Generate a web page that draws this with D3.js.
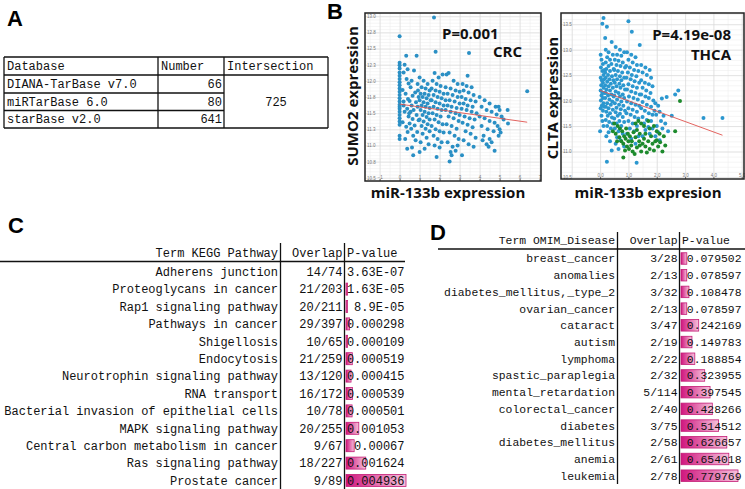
<!DOCTYPE html>
<html><head><meta charset="utf-8">
<script src="https://cdn.jsdelivr.net/npm/d3@7"></script>
<style>body{margin:0;background:#fff;} svg{display:block;}</style>
</head><body>
<svg id="c" width="745" height="489"></svg>
<script>
// ---------- Panel A data ----------
const tableAHeaders = ["Database", "Number", "Intersection"];
const dbNames = ["DIANA-TarBase v7.0", "miRTarBase 6.0", "starBase v2.0"];
const dbNumbers = [66, 80, 641];
const dbIntersection = 725;

// ---------- Panel B data ----------
const crcPoints = [
[0,12.69],[0,12.28],[0,12.24],[0,12.19],[0,12.13],[0,12.08],[0,12.03],[0,11.98],[0,11.93],[0,11.88],[0,11.83],[0,11.78],[0,11.73],[0,11.68],[0,11.63],[0,11.60],[0,11.57],[0,11.52],[0,11.47],[0,11.42],[0,11.37],[0,11.32],[0,11.15],[0,11.10],
[0.33,12.39],[0.25,12.25],[0.4,12.18],[0.2,12.13],[0.35,12.03],[0.45,11.96],[0.15,11.86],[0.3,11.80],[0.42,11.72],[0.2,11.62],[0.38,11.57],[0.25,11.52],[0.45,11.45],[0.15,11.36],[0.33,11.29],[0.4,11.21],[0.28,11.10],[0.38,10.95],[0.48,11.5],[0.2,11.68],
[0.85,12.39],[0.72,12.16],[0.6,12.0],[0.9,11.95],[0.55,11.9],[0.78,11.82],[0.65,11.77],[0.95,11.75],[0.5,11.69],[0.82,11.67],[0.6,11.62],[0.9,11.6],[0.7,11.55],[0.55,11.52],[0.85,11.47],[0.65,11.41],[0.95,11.39],[0.75,11.31],[0.58,11.26],[0.88,11.21],[0.68,11.15],[0.8,11.08],[0.62,10.97],[0.68,10.85],[0.5,11.34],[0.92,11.85],
[1.0,12.05],[1.2,12.0],[1.4,11.95],[1.1,11.9],[1.3,11.88],[1.5,11.85],[1.05,11.8],[1.25,11.8],[1.45,11.78],[1.15,11.75],[1.35,11.73],[1.0,11.7],[1.55,11.7],[1.2,11.67],[1.4,11.65],[1.1,11.62],[1.3,11.6],[1.5,11.58],[1.05,11.55],[1.25,11.52],[1.45,11.5],[1.15,11.47],[1.35,11.44],[1.0,11.4],[1.5,11.4],[1.2,11.37],[1.4,11.33],[1.1,11.3],[1.3,11.26],[1.5,11.22],[1.15,11.18],[1.35,11.12],[1.05,11.05],[1.45,11.02],[1.25,10.95],[1.0,10.9],
[1.75,12.12],[1.95,12.05],[2.15,12.1],[1.65,12.0],[1.85,11.95],[2.05,11.92],[1.6,11.88],[1.8,11.85],[2.0,11.83],[2.2,11.8],[1.7,11.78],[1.9,11.75],[2.1,11.73],[1.6,11.7],[1.8,11.67],[2.0,11.65],[2.2,11.62],[1.7,11.6],[1.9,11.57],[2.1,11.55],[1.65,11.5],[1.85,11.47],[2.05,11.45],[1.75,11.4],[1.95,11.36],[2.15,11.33],[1.6,11.3],[1.8,11.25],[2.0,11.22],[1.7,11.15],[1.9,11.1],[2.1,11.05],[1.75,11.0],[2.0,10.97],[1.85,10.82],[2.2,11.2],[1.72,12.98],[1.8,12.45],
[2.35,12.1],[2.45,12.12],[2.7,12.0],[2.9,11.95],[2.3,11.9],[2.55,11.88],[2.8,11.85],[3.0,11.83],[2.4,11.8],[2.65,11.78],[2.9,11.75],[2.3,11.7],[2.5,11.7],[2.75,11.68],[3.0,11.65],[2.4,11.62],[2.6,11.6],[2.85,11.58],[2.3,11.55],[2.55,11.52],[2.8,11.5],[3.0,11.47],[2.45,11.45],[2.7,11.42],[2.95,11.38],[2.35,11.33],[2.6,11.3],[2.85,11.26],[2.5,11.2],[2.75,11.15],[2.95,11.1],[2.4,11.05],[2.65,10.98],[2.9,11.0],[2.55,10.9],[2.5,10.75],[2.6,10.85],[2.8,10.92],
[3.47,12.43],[3.4,12.08],[3.15,11.95],[3.35,11.92],[3.6,11.9],[3.2,11.85],[3.45,11.82],[3.7,11.78],[3.1,11.75],[3.3,11.72],[3.55,11.7],[3.8,11.68],[3.2,11.65],[3.4,11.62],[3.65,11.6],[3.1,11.57],[3.35,11.55],[3.6,11.52],[3.85,11.5],[3.25,11.45],[3.5,11.42],[3.75,11.4],[3.15,11.35],[3.4,11.32],[3.65,11.28],[3.3,11.22],[3.55,11.18],[3.8,11.12],[3.2,11.08],[3.45,11.02],[3.7,10.98],[3.12,10.85],
[4.0,11.75],[4.25,11.7],[4.5,11.65],[4.1,11.6],[4.35,11.55],[4.6,11.52],[4.85,11.48],[4.0,11.45],[4.25,11.42],[4.5,11.38],[4.75,11.35],[4.1,11.3],[4.4,11.25],[4.7,11.22],[4.9,11.3],[4.2,11.15],[4.5,11.1],[4.35,11.02],[4.6,11.05],[4.45,10.98],[4.75,10.92],[4.15,11.08],[4.8,11.6],
[4.95,11.6],[5.0,11.55],[5.1,11.45],[5.2,11.4],[5.4,11.55],[5.42,11.34],[5.0,11.25],[5.05,11.2],[4.95,11.15],
[6.38,11.84]
];
const crcFit = [[0, 11.64], [6.38, 11.36]];
const crcXTicks = [-1, 0, 1, 2, 3, 4, 5, 6, 7];
const crcYTicks = [10.5, 10.75, 11, 11.25, 11.5, 11.75, 12, 12.25, 12.5, 12.75, 13];

const thcaBlue = [
[0.02,12.9],[0.05,12.8],[0.1,12.72],[0.03,12.65],[0.08,12.58],[0.12,12.5],[0.02,12.45],[0.06,12.4],[0.1,12.35],[0.04,12.3],[0.12,12.25],[0.02,12.2],[0.08,12.15],[0.05,12.1],[0.1,12.05],[0.03,12.0],[0.12,11.95],[0.06,11.9],[0.02,11.85],[0.1,11.8],[0.05,11.7],[0.08,11.6],[0.0,11.4],[0.12,11.5],[0.15,12.6],[0.14,12.42],[0.15,12.15],[0.14,11.88],
[0.12,13.62],[0.08,13.51],[0.24,13.45],[0.18,13.23],[0.41,13.15],[0.2,13.0],[0.3,12.95],[0.45,12.9],[0.25,12.85],[0.35,12.8],[0.2,12.75],[0.4,12.72],[0.3,12.68],[0.22,12.62],[0.48,12.62],[0.35,12.58],[0.18,12.55],[0.28,12.5],[0.42,12.48],[0.2,12.45],[0.33,12.42],[0.47,12.4],[0.25,12.37],[0.38,12.33],[0.18,12.3],[0.3,12.28],[0.45,12.25],[0.22,12.22],[0.35,12.2],[0.2,12.15],[0.4,12.12],[0.28,12.1],[0.48,12.08],[0.18,12.05],[0.33,12.02],[0.43,11.98],[0.25,11.95],[0.38,11.92],[0.2,11.88],[0.3,11.85],[0.45,11.82],[0.22,11.78],[0.35,11.75],[0.27,11.7],[0.42,11.67],[0.2,11.62],[0.32,11.58],[0.45,11.55],[0.25,11.5],[0.38,11.45],[0.3,11.38],[0.22,11.3],[0.41,11.02],[0.24,10.8],[0.35,11.2],
[0.55,13.05],[0.7,13.0],[0.85,12.95],[0.6,12.9],[0.75,12.88],[0.52,12.8],[0.65,12.78],[0.8,12.75],[0.58,12.7],[0.72,12.68],[0.88,12.65],[0.5,12.6],[0.63,12.58],[0.78,12.55],[0.55,12.5],[0.7,12.48],[0.85,12.45],[0.6,12.42],[0.75,12.4],[0.52,12.35],[0.68,12.33],[0.82,12.3],[0.58,12.28],[0.72,12.25],[0.88,12.22],[0.55,12.18],[0.65,12.15],[0.8,12.12],[0.5,12.1],[0.7,12.08],[0.85,12.05],[0.6,12.02],[0.75,11.98],[0.52,11.95],[0.67,11.92],[0.82,11.9],[0.58,11.86],[0.73,11.83],[0.88,11.8],[0.55,11.77],[0.7,11.74],[0.62,11.7],[0.8,11.68],[0.5,11.65],[0.68,11.6],[0.85,11.58],[0.58,11.55],[0.75,11.5],[0.52,11.45],[0.65,11.4],[0.8,11.35],[0.6,11.28],[0.72,11.22],[0.55,11.15],[0.85,11.1],[0.65,11.05],
[1.0,13.56],[1.12,13.35],[0.95,12.95],[1.1,12.9],[1.25,12.85],[1.4,13.09],[1.0,12.8],[1.15,12.75],[1.3,12.7],[0.92,12.68],[1.05,12.65],[1.2,12.6],[1.35,12.58],[0.98,12.55],[1.12,12.5],[1.28,12.48],[0.93,12.45],[1.08,12.42],[1.22,12.38],[1.38,12.35],[1.0,12.32],[1.15,12.28],[1.3,12.25],[0.95,12.22],[1.1,12.18],[1.25,12.15],[1.4,12.12],[1.02,12.08],[1.18,12.05],[1.33,12.02],[0.95,11.98],[1.1,11.95],[1.25,11.92],[1.38,11.9],[1.0,11.85],[1.15,11.82],[1.3,11.78],[0.93,11.75],[1.08,11.72],[1.22,11.68],[1.35,11.65],[1.0,11.6],[1.15,11.55],[1.3,11.5],[1.05,11.45],[1.2,11.4],[0.95,11.35],[1.35,11.3],[1.1,11.25],[1.29,10.78],[1.25,11.15],
[1.45,12.7],[1.6,12.65],[1.75,12.6],[1.5,12.55],[1.65,12.5],[1.8,12.45],[1.45,12.4],[1.58,12.35],[1.72,12.32],[1.85,12.28],[1.5,12.25],[1.63,12.2],[1.78,12.15],[1.45,12.12],[1.6,12.08],[1.72,12.05],[1.88,12.0],[1.5,11.97],[1.65,11.92],[1.8,11.88],[1.45,11.85],[1.58,11.8],[1.72,11.75],[1.85,11.72],[1.5,11.68],[1.65,11.62],[1.8,11.6],[1.55,11.55],[1.7,11.48],[1.85,11.45],[1.6,11.42],[1.75,11.35],[1.5,11.3],
[1.95,11.95],[2.05,11.9],[2.18,12.04],[2.35,12.07],[1.92,11.8],[2.1,11.78],[2.24,11.7],[1.98,11.72],[2.15,11.6],[2.3,11.55],[2.0,11.5],[2.2,11.45],[2.4,11.4],[2.05,11.38],[2.53,11.7],[2.65,12.12],[2.76,12.2],[1.95,11.3],[2.1,11.22],
[3.65,11.66],[4.32,11.66]
];
const thcaGreen = [
[0.45,11.4],[0.55,11.35],[0.62,11.5],[0.7,11.45],[0.78,11.4],[0.85,11.3],[0.92,11.45],[0.68,11.28],[0.75,11.2],[0.82,11.15],[0.9,11.25],[0.98,11.35],[1.05,11.3],[1.12,11.2],[1.18,11.38],[1.25,11.28],[1.3,11.42],[1.38,11.2],[0.95,11.1],[1.02,11.05],[1.1,11.12],[0.88,11.02],[0.82,10.88],[1.15,11.0],[1.22,10.95],[1.3,11.08],[1.4,11.12],[1.45,11.0],[1.5,11.15],[1.55,11.25],[1.6,11.1],[1.65,10.98],[1.7,11.2],[1.75,11.05],[1.8,11.3],[1.85,11.15],[1.9,11.02],[1.95,11.2],[2.0,11.22],[2.05,11.1],[2.12,11.18],[2.2,11.0],[2.3,11.12],[2.0,11.4],[1.9,11.5],[1.7,11.6],[1.55,11.5],[1.45,11.55],[1.35,11.6],[1.25,11.55],[0.6,11.2],[0.5,11.55],[2.65,11.4],[2.82,11.99],[1.6,11.35],[1.4,11.35],[2.1,11.35],[1.0,11.2],[1.75,11.45],[2.25,11.3]
];
const thcaFit = [[0, 12.2], [4.32, 11.32]];
const thcaXTicks = [0, 1, 2, 3, 4, 5];
const thcaYTicks = [10.5, 11, 11.5, 12, 12.5, 13, 13.5];

// ---------- Panel C data ----------
const keggHeaders = ["Term KEGG Pathway", "Overlap", "P-value"];
const keggTerms = ["Adherens junction", "Proteoglycans in cancer", "Rap1 signaling pathway", "Pathways in cancer", "Shigellosis", "Endocytosis", "Neurotrophin signaling pathway", "RNA transport", "Bacterial invasion of epithelial cells", "MAPK signaling pathway", "Central carbon metabolism in cancer", "Ras signaling pathway", "Prostate cancer"];
const keggOverlap = ["14/74", "21/203", "20/211", "29/397", "10/65", "21/259", "13/120", "16/172", "10/78", "20/255", "9/67", "18/227", "9/89"];
const keggPLabels = ["3.63E-07", "1.63E-05", "8.9E-05", "0.000298", "0.000109", "0.000519", "0.000415", "0.000539", "0.000501", "0.001053", "0.00067", "0.001624", "0.004936"];

// ---------- Panel D data ----------
const omimHeaders = ["Term OMIM_Disease", "Overlap", "P-value"];
const omimTerms = ["breast_cancer", "anomalies", "diabetes_mellitus,_type_2", "ovarian_cancer", "cataract", "autism", "lymphoma", "spastic_paraplegia", "mental_retardation", "colorectal_cancer", "diabetes", "diabetes_mellitus", "anemia", "leukemia"];
const omimOverlap = ["3/28", "2/13", "3/32", "2/13", "3/47", "2/19", "2/22", "2/32", "5/114", "2/40", "3/75", "2/58", "2/61", "2/78"];
const omimPLabels = ["0.079502", "0.078597", "0.108478", "0.078597", "0.242169", "0.149783", "0.188854", "0.323955", "0.397545", "0.428266", "0.514512", "0.626657", "0.654018", "0.779769"];

// =====================================================
const svg = d3.select("#c");
const MONO = "'Liberation Mono', 'Courier New', 'Nimbus Mono PS', FreeMono, Courier, monospace";
const SANS = "'Liberation Sans', Arial, sans-serif";
const BOLD = "'Open Sans', 'Liberation Sans', Arial, sans-serif";

const defs = svg.append("defs");
const grad = defs.append("linearGradient").attr("id", "barGrad").attr("x1", "0").attr("x2", "1").attr("y1", "0").attr("y2", "0");
grad.append("stop").attr("offset", "0%").attr("stop-color", "#d0167e");
grad.append("stop").attr("offset", "100%").attr("stop-color", "#f5c2dc");

function panelLabel(t, x, y) {
  svg.append("text").attr("x", x).attr("y", y).text(t)
    .attr("font-family", SANS).attr("font-weight", "bold").attr("font-size", 22).attr("fill", "#000");
}

// ---------- Panel A ----------
panelLabel("A", 7, 26);
(function () {
  const g = svg.append("g");
  const colX = [4, 158, 224, 328];
  const rowY = [57, 75, 93, 110.5, 128];
  const line = (x1, y1, x2, y2) => g.append("line").attr("x1", x1).attr("y1", y1).attr("x2", x2).attr("y2", y2)
    .attr("stroke", "#111").attr("stroke-width", 1.3);
  line(colX[0], rowY[0], colX[3], rowY[0]);
  line(colX[0], rowY[1], colX[3], rowY[1]);
  line(colX[0], rowY[2], colX[2], rowY[2]);
  line(colX[0], rowY[3], colX[2], rowY[3]);
  line(colX[0], rowY[4], colX[3], rowY[4]);
  colX.forEach(x => line(x, rowY[0], x, rowY[4]));
  const txt = (s, x, y, anchor) => g.append("text").attr("x", x).attr("y", y).attr("dy", "0.35em").text(s)
    .attr("font-family", MONO).attr("font-size", 12).attr("fill", "#111").attr("text-anchor", anchor || "start");
  tableAHeaders.forEach((h, i) => txt(h, colX[i] + 3, (rowY[0] + rowY[1]) / 2));
  dbNames.forEach((n, i) => {
    const cy = (rowY[i + 1] + rowY[i + 2]) / 2;
    txt(n, colX[0] + 3, cy);
    txt(String(dbNumbers[i]), colX[2] - 2, cy, "end");
  });
  txt(String(dbIntersection), (colX[2] + colX[3]) / 2, (rowY[1] + rowY[4]) / 2, "middle");
})();

// ---------- Panel B ----------
panelLabel("B", 327, 19);

function scatterPanel(o) {
  const g = svg.append("g");
  const x = d3.scaleLinear().domain(o.xDomain).range([o.x0, o.x1]);
  const y = d3.scaleLinear().domain(o.yDomain).range([o.y1, o.y0]);
  const w = o.x1 - o.x0, h = o.y1 - o.y0;
  g.append("rect").attr("x", o.x0).attr("y", o.y0).attr("width", w).attr("height", h).attr("fill", "#fff");
  const yMinor = d3.range(Math.ceil(o.yDomain[0] / o.yMinorStep), Math.floor(o.yDomain[1] / o.yMinorStep) + 1).map(k => +(k * o.yMinorStep).toFixed(4));
  const xMinor = d3.range(Math.ceil(o.xDomain[0] / o.xMinorStep), Math.floor(o.xDomain[1] / o.xMinorStep) + 1).map(k => +(k * o.xMinorStep).toFixed(4));
  const gridStyle = (sel, col) => { sel.select(".domain").remove(); sel.selectAll(".tick line").attr("stroke", col).attr("stroke-width", 0.6); };
  g.append("g").attr("transform", `translate(${o.x0},0)`)
    .call(d3.axisLeft(y).tickValues(yMinor).tickSize(-w).tickFormat(""))
    .call(s => gridStyle(s, "#eeeeee"));
  g.append("g").attr("transform", `translate(0,${o.y1})`)
    .call(d3.axisBottom(x).tickValues(xMinor).tickSize(-h).tickFormat(""))
    .call(s => gridStyle(s, "#eeeeee"));
  g.append("g").attr("transform", `translate(${o.x0},0)`)
    .call(d3.axisLeft(y).tickValues(o.yTicks).tickSize(-w).tickFormat(""))
    .call(s => gridStyle(s, "#d6d6d6"));
  g.append("g").attr("transform", `translate(0,${o.y1})`)
    .call(d3.axisBottom(x).tickValues(o.xGrid).tickSize(-h).tickFormat(""))
    .call(s => gridStyle(s, "#d6d6d6"));
  g.append("g").attr("transform", `translate(${o.x0},0)`)
    .call(d3.axisRight(y).tickValues(o.yTicks).tickSize(0).tickPadding(2))
    .call(s => { s.select(".domain").remove(); s.selectAll("text").attr("font-size", 4.5).attr("fill", "#777").attr("font-family", SANS); });
  g.append("g").attr("transform", `translate(0,${o.y1})`)
    .call(d3.axisTop(x).tickValues(o.xTicks).tickSize(2).tickPadding(0.5))
    .call(s => { s.select(".domain").remove(); s.selectAll(".tick line").attr("stroke", "#666");
      s.selectAll("text").attr("font-size", 4.5).attr("fill", "#777").attr("font-family", SANS); });
  o.series.forEach(sr => {
    g.append("g").selectAll("circle").data(sr.data).join("circle")
      .attr("cx", d => x(d[0])).attr("cy", d => y(d[1])).attr("r", 2).attr("fill", sr.color);
  });
  g.append("path").datum(o.fit).attr("d", d3.line().x(d => x(d[0])).y(d => y(d[1])))
    .attr("stroke", "#e0524e").attr("stroke-width", 0.9).attr("fill", "none");
  g.append("rect").attr("x", o.x0).attr("y", o.y0).attr("width", w).attr("height", h)
    .attr("fill", "none").attr("stroke", "#222").attr("stroke-width", 1.5);
  g.append("text").attr("x", o.pX).attr("y", o.pY).text(o.pText).attr("text-anchor", o.pAnchor)
    .attr("font-family", BOLD).attr("font-weight", "bold").attr("font-size", 15).attr("fill", "#111");
  g.append("text").attr("x", o.cX).attr("y", o.cY).text(o.cText).attr("text-anchor", "end")
    .attr("font-family", BOLD).attr("font-weight", "bold").attr("font-size", 15).attr("fill", "#111");
  g.append("text").attr("x", o.xtX).attr("y", o.xtY).text(o.xTitle).attr("text-anchor", "middle")
    .attr("font-family", BOLD).attr("font-weight", "bold").attr("font-size", 15).attr("fill", "#111");
  g.append("text").attr("transform", `translate(${o.ytX},${o.ytY}) rotate(-90)`).text(o.yTitle).attr("text-anchor", "middle")
    .attr("font-family", BOLD).attr("font-weight", "bold").attr("font-size", 15).attr("fill", "#111");
}

scatterPanel({
  x0: 365, x1: 541, y0: 13, y1: 181,
  xDomain: [-1.73, 7.07], yDomain: [10.45, 13.05],
  xTicks: crcXTicks, xGrid: crcXTicks, yTicks: crcYTicks, xMinorStep: 0.5, yMinorStep: 0.05,
  series: [{ data: crcPoints, color: "#2a8fc4" }],
  fit: crcFit,
  pText: "P=0.001", pX: 442, pY: 39, pAnchor: "start",
  cText: "CRC", cX: 522, cY: 57,
  xTitle: "miR-133b expression", xtX: 448, xtY: 198,
  yTitle: "SUMO2 expression", ytX: 358, ytY: 96
});

scatterPanel({
  x0: 561, x1: 744, y0: 13, y1: 179,
  xDomain: [-1.38, 5.08], yDomain: [10.46, 13.72],
  xTicks: thcaXTicks, xGrid: [-1].concat(thcaXTicks), yTicks: thcaYTicks, xMinorStep: 0.5, yMinorStep: 0.1,
  series: [{ data: thcaBlue, color: "#2b97cf" }, { data: thcaGreen, color: "#1d8a2c" }],
  fit: thcaFit,
  pText: "P=4.19e-08", pX: 731, pY: 40, pAnchor: "end",
  cText: "THCA", cX: 731, cY: 60,
  xTitle: "miR-133b expresion", xtX: 648, xtY: 198,
  yTitle: "CLTA expression", ytX: 558, ytY: 98
});

// ---------- Tables C & D ----------
function enrichTable(o) {
  const g = svg.append("g");
  const rows = d3.scalePoint().domain(o.terms).range([o.firstY, o.lastY]);
  const pVals = o.pLabels.map(s => +s);
  const bw = d3.scaleLinear().domain([0, d3.max(pVals)]).range([0, o.barMax]);
  const txt = (s, x, y, anchor) => g.append("text").attr("x", x).attr("y", y).attr("dy", "0.35em").text(s)
    .attr("font-family", MONO).attr("font-size", o.fs).attr("fill", "#111").attr("text-anchor", anchor);
  txt(o.headers[0], o.termRight, o.headerY, "end");
  txt(o.headers[1], o.ovRight, o.headerY, "end");
  txt(o.headers[2], o.barX + 1, o.headerY, "start");
  g.append("line").attr("x1", o.lineX0).attr("x2", o.lineX1).attr("y1", o.lineY).attr("y2", o.lineY)
    .attr("stroke", "#111").attr("stroke-width", 1.3);
  [o.col1, o.col2].forEach(x => g.append("line").attr("x1", x).attr("x2", x).attr("y1", o.vTop).attr("y2", o.vBottom)
    .attr("stroke", "#111").attr("stroke-width", 1.3));
  g.append("g").selectAll("rect").data(o.terms).join("rect")
    .attr("x", o.barX).attr("y", d => rows(d) - o.barH / 2)
    .attr("width", (d, i) => pVals[i] < 1e-5 ? 0 : Math.max(bw(pVals[i]), 1.6))
    .attr("height", o.barH).attr("fill", "url(#barGrad)").attr("stroke", "#c41c76").attr("stroke-width", 0.8);
  o.terms.forEach((t, i) => {
    const cy = rows(t);
    txt(t, o.termRight, cy, "end");
    txt(o.overlap[i], o.ovRight, cy, "end");
    txt(o.pLabels[i], o.pRight, cy, "end");
  });
}

panelLabel("C", 8, 233);
enrichTable({
  terms: keggTerms, overlap: keggOverlap, pLabels: keggPLabels, headers: keggHeaders,
  fs: 12, firstY: 271.7, lastY: 480.5, headerY: 253,
  termRight: 278, ovRight: 342.5, barX: 346, pRight: 404.5, barMax: 60, barH: 12,
  lineX0: 0, lineX1: 405, lineY: 261.5, col1: 280.5, col2: 344.5, vTop: 243, vBottom: 489
});

panelLabel("D", 430, 240);
enrichTable({
  terms: omimTerms, overlap: omimOverlap, pLabels: omimPLabels, headers: omimHeaders,
  fs: 11.4, firstY: 258.5, lastY: 475.7, headerY: 240.5,
  termRight: 615, ovRight: 677.5, barX: 681, pRight: 741.5, barMax: 57, barH: 11.5,
  lineX0: 438, lineX1: 745, lineY: 249, col1: 617.5, col2: 679.5, vTop: 232, vBottom: 484
});
</script>
</body></html>
